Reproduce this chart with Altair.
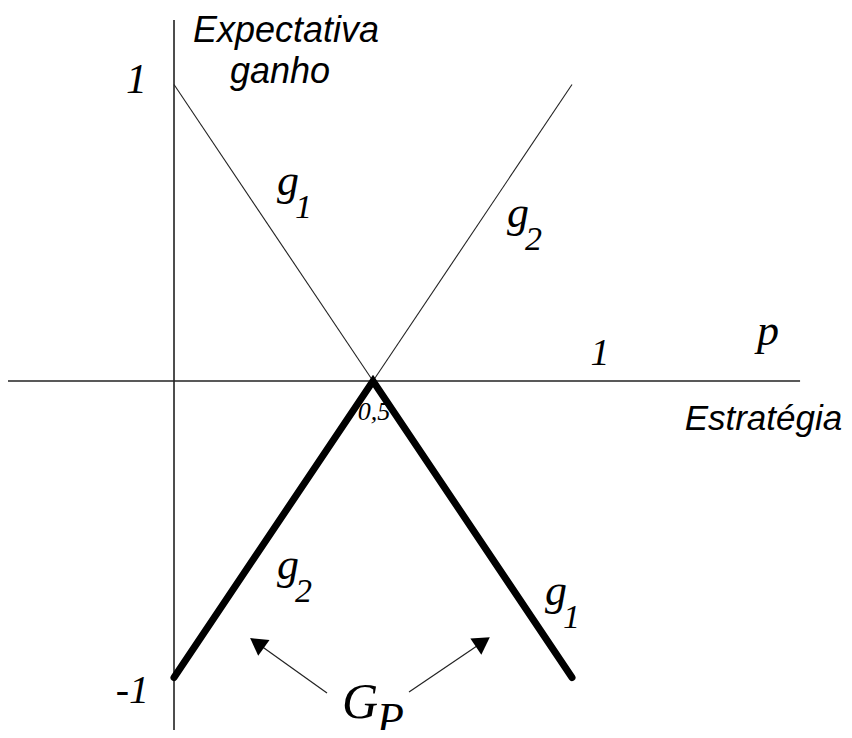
import altair as alt
import pandas as pd

# ---- data (in chart units: x = strategy p, y = expected gain) ----
# thin lines g1, g2
g1_x = [0.0, 0.5]
g1_y = [1.0, 0.0]
g2_x = [0.5, 1.0]
g2_y = [0.0, 1.0]
# thick lower envelope G_P
gp_x = [0.0, 0.5, 1.0]
gp_y = [-1.0, 0.0, -1.0]
# axes
axis_v_x = [0.0, 0.0]
axis_v_y = [-1.1771, 1.2175]
axis_h_x = [-0.4171, 1.573]
axis_h_y = [0.0, 0.0]
# arrows (tail -> head)
arrow_x1 = [0.3844, 0.5905]
arrow_y1 = [-1.0523, -1.0489]
arrow_x2 = [0.2085, 0.7759]
arrow_y2 = [-0.8836, -0.8799]
arrow_angle = [305.5, 55.8]

# texts
sans_text = ["Expectativa", "ganho", "Estratégia"]
sans_x = [0.0477, 0.1407, 1.283]
sans_y = [1.1433, 1.0051, -0.1653]
sans_size = [36, 36, 35]

serif_left_text = ["g", "1", "g", "2", "g", "2", "g", "1", "G", "P", "p"]
serif_left_x = [0.2588, 0.304, 0.8367, 0.8819, 0.2588, 0.304, 0.9322, 0.9774, 0.4221, 0.51, 1.4648]
serif_left_y = [0.6273, 0.5497, 0.5194, 0.4418, -0.6678, -0.7454, -0.7555, -0.8331, -1.1366, -1.1872, 0.1214]
serif_left_size = [44, 34, 44, 34, 44, 34, 44, 34, 50, 44, 44]

serif_right_text = ["1", "-1"]
serif_right_x = [-0.0678, -0.0628]
serif_right_y = [0.9713, -1.086]
serif_right_size = [42, 40]

serif_center_text = ["1", "0,5"]
serif_center_x = [1.0704, 0.5025]
serif_center_y = [0.054, -0.1315]
serif_center_size = [38, 26]

W, H = 836, 722
xs = alt.Scale(domain=[-0.4171, 1.6834], nice=False, zero=False)
ys = alt.Scale(domain=[-1.1771, 1.2580], nice=False, zero=False)


def X(f):
    return alt.X(f, type="quantitative", scale=xs, axis=None)


def Y(f):
    return alt.Y(f, type="quantitative", scale=ys, axis=None)


segs = pd.DataFrame({
    "x": [axis_v_x[0], axis_h_x[0], g1_x[0], g2_x[0]],
    "y": [axis_v_y[0], axis_h_y[0], g1_y[0], g2_y[0]],
    "x2": [axis_v_x[1], axis_h_x[1], g1_x[1], g2_x[1]],
    "y2": [axis_v_y[1], axis_h_y[1], g1_y[1], g2_y[1]],
    "w": [1.6, 1.6, 1.1, 1.1],
})
rules = alt.Chart(segs).mark_rule(color="#222222").encode(
    x=X("x"), y=Y("y"), x2="x2", y2="y2",
    strokeWidth=alt.StrokeWidth("w:Q", scale=None),
)

gp = pd.DataFrame({"x": gp_x, "y": gp_y, "o": list(range(len(gp_x)))})
thick = alt.Chart(gp).mark_line(color="black", strokeWidth=7, strokeCap="round",
                                strokeJoin="miter").encode(
    x=X("x"), y=Y("y"), order="o:Q")

arr = pd.DataFrame({"x": arrow_x1, "y": arrow_y1, "x2": arrow_x2, "y2": arrow_y2,
                    "a": arrow_angle})
arrow_lines = alt.Chart(arr).mark_rule(color="#222222", strokeWidth=1.2).encode(
    x=X("x"), y=Y("y"), x2="x2", y2="y2")
arrow_heads = alt.Chart(arr).mark_point(shape="triangle-up", filled=True, size=380,
                                        color="black", opacity=1).encode(
    x=X("x2"), y=Y("y2"), angle=alt.Angle("a:Q", scale=None))

sans = alt.Chart(pd.DataFrame({"t": sans_text, "x": sans_x, "y": sans_y,
                               "s": sans_size})).mark_text(
    font="Liberation Sans", fontStyle="italic", align="left",
    baseline="alphabetic", color="black").encode(
    x=X("x"), y=Y("y"), text="t:N", size=alt.Size("s:Q", scale=None))

serif_l = alt.Chart(pd.DataFrame({"t": serif_left_text, "x": serif_left_x,
                                  "y": serif_left_y, "s": serif_left_size})).mark_text(
    font="Liberation Serif", fontStyle="italic", align="left",
    baseline="alphabetic", color="black").encode(
    x=X("x"), y=Y("y"), text="t:N", size=alt.Size("s:Q", scale=None))

serif_r = alt.Chart(pd.DataFrame({"t": serif_right_text, "x": serif_right_x,
                                  "y": serif_right_y, "s": serif_right_size})).mark_text(
    font="Liberation Serif", fontStyle="italic", align="right",
    baseline="alphabetic", color="black").encode(
    x=X("x"), y=Y("y"), text="t:N", size=alt.Size("s:Q", scale=None))

serif_c = alt.Chart(pd.DataFrame({"t": serif_center_text, "x": serif_center_x,
                                  "y": serif_center_y, "s": serif_center_size})).mark_text(
    font="Liberation Serif", fontStyle="italic", align="center",
    baseline="alphabetic", color="black").encode(
    x=X("x"), y=Y("y"), text="t:N", size=alt.Size("s:Q", scale=None))

chart = alt.layer(rules, thick, arrow_lines, arrow_heads, sans, serif_l, serif_r, serif_c).properties(
    width=W, height=H, padding=0, autosize=alt.AutoSizeParams(type="none"),
    background="white",
).configure_view(stroke=None)

chart.save("out.html", embed_options={"renderer": "svg", "actions": False})
